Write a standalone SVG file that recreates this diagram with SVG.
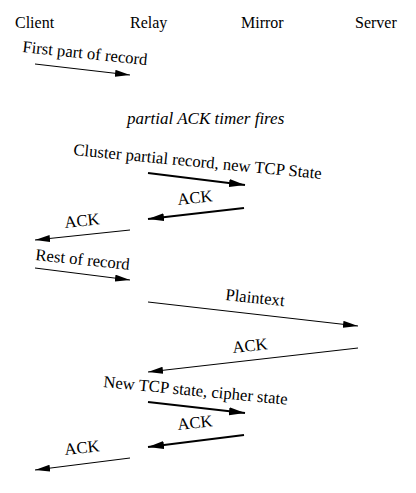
<svg xmlns="http://www.w3.org/2000/svg" width="416" height="493" viewBox="0 0 416 493">
<style>
text { font-family: "Liberation Serif", "Times New Roman", serif; font-size: 16px; fill: #000; }
.it { font-style: italic; font-size: 17px; }
#labels text { font-size: 16.7px; }
.thin { stroke: #000; stroke-width: 1; fill: none; marker-end: url(#ah); }
.thick { stroke: #000; stroke-width: 2; fill: none; marker-end: url(#ahb); }
</style>
<defs>
<marker id="ah" markerUnits="userSpaceOnUse" markerWidth="16" markerHeight="8" refX="15" refY="3.5" orient="auto">
<path d="M0,0 L15,3.5 L0,7 z" fill="#000"/>
</marker>
<marker id="ahb" markerUnits="userSpaceOnUse" markerWidth="17" markerHeight="9" refX="16" refY="4" orient="auto">
<path d="M0,0 L16,4 L0,8 z" fill="#000"/>
</marker>
</defs>
<rect width="416" height="493" fill="#fff"/>
<g id="client"><text x="15" y="28">Client</text></g>
<g id="relay"><text x="130" y="28">Relay</text></g>
<g id="mirror"><text x="241" y="28">Mirror</text></g>
<g id="server"><text x="355" y="28">Server</text></g>
<g id="timer"><text class="it" x="127" y="124">partial ACK timer fires</text></g>
<g id="connectors">
<line class="thin" x1="35" y1="64" x2="130" y2="75"/>
<line class="thick" x1="148" y1="173" x2="245" y2="185"/>
<line class="thick" x1="244" y1="208" x2="148" y2="219"/>
<line class="thin" x1="130" y1="230" x2="35" y2="240"/>
<line class="thin" x1="35" y1="268" x2="130" y2="280"/>
<line class="thin" x1="148" y1="302" x2="358" y2="326"/>
<line class="thin" x1="358" y1="348" x2="148" y2="372"/>
<line class="thick" x1="148" y1="402" x2="245" y2="413"/>
<line class="thick" x1="244" y1="435" x2="148" y2="447"/>
<line class="thin" x1="130" y1="458" x2="35" y2="470"/>
</g>
<g id="labels">
<text transform="translate(22,52) rotate(6)">First part of record</text>
<text transform="translate(73,155) rotate(5.5)">Cluster partial record, new TCP State</text>
<text transform="translate(178,205) rotate(-6)">ACK</text>
<text transform="translate(65,228) rotate(-6)">ACK</text>
<text transform="translate(35,260) rotate(6)">Rest of record</text>
<text transform="translate(225,300) rotate(6)">Plaintext</text>
<text transform="translate(233,353) rotate(-6)">ACK</text>
<text transform="translate(103,387) rotate(5.5)">New TCP state, cipher state</text>
<text transform="translate(178,430) rotate(-6)">ACK</text>
<text transform="translate(65,455) rotate(-6)">ACK</text>
</g>
</svg>
